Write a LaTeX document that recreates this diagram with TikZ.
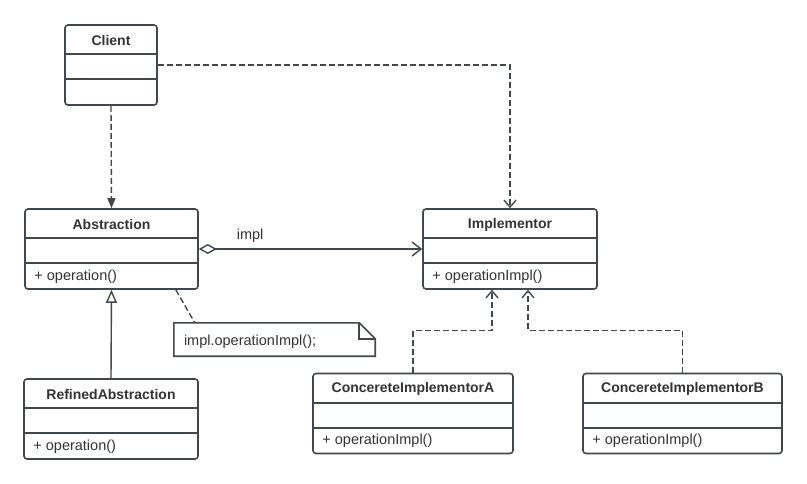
\documentclass[tikz,border=0pt]{standalone}
\usepackage{fontspec}
\setmainfont{Liberation Sans}
\usetikzlibrary{arrows.meta,calc}

\definecolor{umlline}{HTML}{43464B}
\definecolor{umltext}{HTML}{333333}

\tikzset{
  classbox/.style={draw=umlline, line width=1.6pt, rounded corners=3pt, fill=white,
    minimum height=80pt, inner sep=0pt},
  classrule/.style={draw=umlline, line width=1.6pt},
  classtitle/.style={font=\fontsize{14}{16}\selectfont\bfseries, text=umltext, inner sep=0pt},
  classop/.style={font=\fontsize{14.5}{16}\selectfont, text=umltext, inner sep=0pt, anchor=west},
  depend/.style={draw=umlline, line width=1.4pt, dash pattern=on 6pt off 3pt},
  solidlink/.style={draw=umlline, line width=1.4pt},
  openhead/.style={-{Straight Barb[length=7pt,width=12pt]}},
  filledhead/.style={-{Triangle[length=10pt,width=8pt]}},
}

% class box: name, centre x, top y, width, title, operation
\newcommand{\umlclass}[6]{%
  \node[classbox, minimum width=#4pt] (#1) at (#2,#3+40) {};
  \node[classtitle] (#1-title) at ($(#1.north)+(0,16.5)$) {#5};
  \draw[classrule] ($(#1.north west)+(0,30)$) -- ($(#1.north east)+(0,30)$);
  \draw[classrule] ($(#1.north west)+(0,55)$) -- ($(#1.north east)+(0,55)$);
  \node[classop] (#1-op) at ($(#1.north west)+(10,68.5)$) {#6};
}

\begin{document}
\begin{tikzpicture}[x=1pt,y=-1pt]
\useasboundingbox[fill=white] (0,0) rectangle (807,484);

\umlclass{client}{111}{25}{92}{Client}{}
\umlclass{abs}{111.5}{209}{173}{Abstraction}{+ operation()}
\umlclass{impl}{510}{209}{174}{Implementor}{+ operationImpl()}
\umlclass{refined}{111}{379}{174}{RefinedAbstraction}{+ operation()}
\umlclass{cia}{413}{373.5}{200}{ConcereteImplementorA}{+ operationImpl()}
\umlclass{cib}{682.5}{373.5}{199}{ConcereteImplementorB}{+ operationImpl()}

% note
\node[minimum width=201pt, minimum height=33pt, inner sep=0pt] (note) at (274.5,339.5) {};
\draw[classrule, fill=white] (note.north west) -- ($(note.north east)+(-16,0)$)
  -- ($(note.north east)+(0,16)$) -- (note.south east) -- (note.south west) -- cycle;
\draw[classrule] ($(note.north east)+(-16,0)$) |- ($(note.north east)+(0,16)$);
\node[classop] (note-text) at ($(note.west)+(10,2.5)$) {impl.operationImpl();};

% connectors
\draw[depend, filledhead] (client.south) -- (abs.north);
\draw[depend, openhead] (client.east) -| (impl.north);
\draw[solidlink, {Diamond[open,length=18pt,width=10pt]}-{Straight Barb[length=9pt,width=14pt]}]
  (abs.east) -- node[pos=0.23, above=6pt, classop, anchor=south] (impl-label) {impl} (impl.west);
\draw[solidlink, -{Triangle[open,length=13pt,width=11pt]}] (refined.north) -- (abs.south);
\draw[depend] ($(abs.south east)+(-23,0)$) -- ($(note.north west)+(21,0)$);
\draw[depend, openhead] (cia.north) -- ++(0,-42.5) -| ($(impl.south)+(-18,0)$);
\draw[depend, openhead] (cib.north) -- ++(0,-42.5) -| ($(impl.south)+(18,0)$);
\end{tikzpicture}
\end{document}
